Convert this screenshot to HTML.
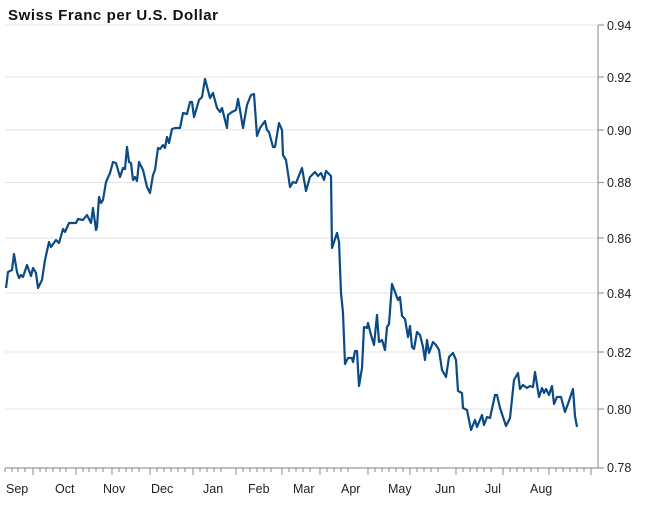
<!DOCTYPE html>
<html><head><style>
body{margin:0;background:#fff;}
svg{display:block;font-family:"Liberation Sans",sans-serif;}
</style></head><body>
<svg width="648" height="506" viewBox="0 0 648 506">
<text x="8" y="20" font-size="15" font-weight="bold" fill="#111" textLength="210">Swiss Franc per U.S. Dollar</text>
<g stroke="#e3e3e3" stroke-width="1">
<line x1="5" x2="598" y1="25" y2="25"/><line x1="5" x2="598" y1="77" y2="77"/><line x1="5" x2="598" y1="130" y2="130"/><line x1="5" x2="598" y1="182.5" y2="182.5"/><line x1="5" x2="598" y1="238" y2="238"/><line x1="5" x2="598" y1="293" y2="293"/><line x1="5" x2="598" y1="352" y2="352"/><line x1="5" x2="598" y1="409" y2="409"/>
</g>
<g stroke="#999" stroke-width="1.2">
<line x1="598" x2="598" y1="25" y2="468"/><line x1="5" x2="598" y1="468" y2="468"/>
<line x1="598" x2="604" y1="25" y2="25"/><line x1="598" x2="604" y1="77" y2="77"/><line x1="598" x2="604" y1="130" y2="130"/><line x1="598" x2="604" y1="182.5" y2="182.5"/><line x1="598" x2="604" y1="238" y2="238"/><line x1="598" x2="604" y1="293" y2="293"/><line x1="598" x2="604" y1="352" y2="352"/><line x1="598" x2="604" y1="409" y2="409"/><line x1="598" x2="604" y1="468" y2="468"/>
</g>
<g font-size="12.5" fill="#222">
<text x="607" y="30">0.94</text><text x="607" y="82">0.92</text><text x="607" y="135">0.90</text><text x="607" y="187">0.88</text><text x="607" y="243">0.86</text><text x="607" y="298">0.84</text><text x="607" y="357">0.82</text><text x="607" y="414">0.80</text><text x="607" y="472">0.78</text>
</g>
<g stroke="#888" stroke-width="1">
<path d="M5 468v4M12 468v4M18 468v4M25 468v4M40 468v4M46 468v4M53 468v4M60 468v4M66 468v4M83 468v4M89 468v4M96 468v4M103 468v4M119 468v4M126 468v4M132 468v4M139 468v4M157 468v4M164 468v4M171 468v4M178 468v4M185 468v4M200 468v4M207 468v4M214 468v4M221 468v4M243 468v4M250 468v4M257 468v4M264 468v4M271 468v4M289 468v4M296 468v4M303 468v4M310 468v4M327 468v4M334 468v4M341 468v4M348 468v4M375 468v4M382 468v4M389 468v4M396 468v4M403 468v4M417 468v4M424 468v4M431 468v4M438 468v4M463 468v4M470 468v4M477 468v4M484 468v4M491 468v4M510 468v4M517 468v4M524 468v4M531 468v4M538 468v4M556 468v4M563 468v4M570 468v4M577 468v4M584 468v4"/>
<path d="M33 468v7M76 468v7M112 468v7M150 468v7M193 468v7M236 468v7M282 468v7M320 468v7M368 468v7M410 468v7M456 468v7M503 468v7M549 468v7M591 468v7"/>
</g>
<g font-size="12.5" fill="#222">
<text x="6" y="493">Sep</text><text x="55" y="493">Oct</text><text x="103" y="493">Nov</text><text x="151" y="493">Dec</text><text x="203" y="493">Jan</text><text x="248" y="493">Feb</text><text x="293" y="493">Mar</text><text x="341" y="493">Apr</text><text x="388" y="493">May</text><text x="435" y="493">Jun</text><text x="485" y="493">Jul</text><text x="530" y="493">Aug</text>
</g>
<polyline fill="none" stroke="#0b4a85" stroke-width="2.2" stroke-linejoin="round" points="6,288 8,272 12,270 14,254 17,272 19,278 21,275 23,277 27,265 31,276 33,268 36,273 38,288 42,280 45,260 49,242 51,247 56,240 59,243 63,229 65,232 69,223 76,223 78,219 83,220 87,215 91,223 93,208 96,230 97,227 99,197 101,203 103,200 106,182 110,173 113,162 116,163 120,177 123,168 125,169 127,147 129,162 131,163 133,180 135,177 137,181 139,162 143,170 147,187 150,193 153,175 155,170 158,148 160,149 163,145 165,148 167,137 169,143 172,129 175,128 180,128 183,113 187,114 190,102 192,102 194,117 197,107 199,100 202,97 205,79 210,98 213,93 217,108 220,112 222,108 227,128 228,115 232,112 236,110 238,99 240,110 243,128 247,105 251,95 254,94 257,136 260,128 265,121 267,130 269,132 273,147 275,147 279,123 282,130 283,155 286,160 290,187 293,182 296,183 302,168 306,191 310,177 315,172 318,176 321,173 324,180 326,171 331,176 332,248 337,233 339,242 341,293 343,313 345,364 348,358 352,358 353,362 355,351 357,351 359,386 362,368 364,327 367,328 368,323 371,335 374,345 377,315 379,342 382,340 385,350 387,327 389,324 392,284 395,292 398,300 400,297 402,316 405,319 408,337 410,326 412,347 414,349 417,332 420,335 423,347 425,360 427,340 429,353 433,342 436,345 439,350 442,370 446,377 449,357 453,353 456,360 458,391 462,393 463,408 467,410 471,430 475,420 477,427 482,415 484,425 487,417 490,418 495,395 497,395 500,408 506,426 510,418 514,380 518,373 520,389 523,385 527,388 530,386 533,387 535,372 539,397 542,388 544,393 546,389 549,395 552,386 554,404 557,397 561,397 565,412 569,401 573,389 575,416 577,427"/>
</svg>
</body></html>
